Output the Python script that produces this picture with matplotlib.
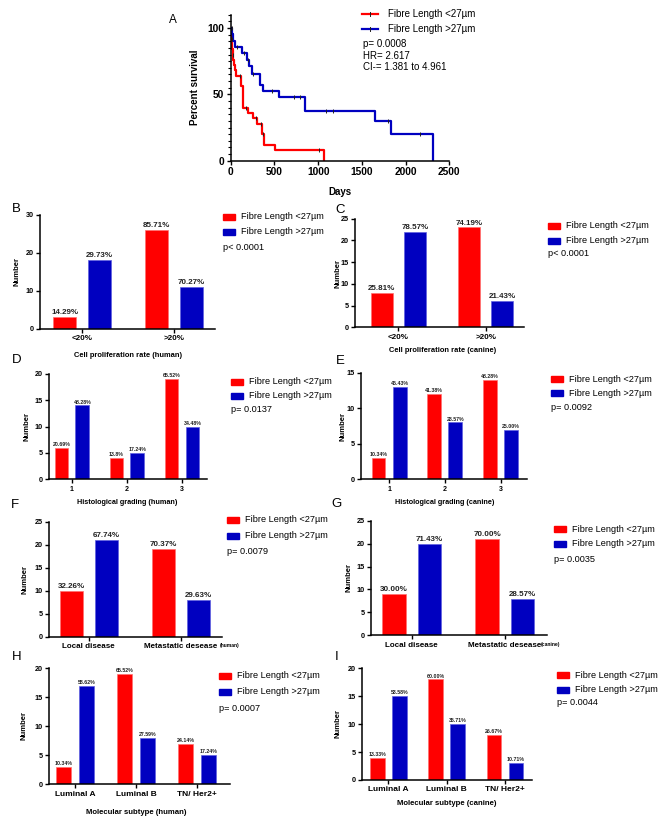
import numpy as np
import matplotlib
matplotlib.use("Agg")
from matplotlib import pyplot as plt
from matplotlib.ticker import MultipleLocator
from matplotlib.patches import Rectangle
from matplotlib.lines import Line2D

plt.rcParams['font.family'] = ['Liberation Sans', 'DejaVu Sans']

RED = '#ff0000'
BLUE = '#0000c0'
W, H = 661, 826

# ---- panel A: Kaplan-Meier ----
km_red_t = [0, 5, 10, 15, 20, 25, 30, 38, 45, 60, 120, 140, 200, 260, 297, 362, 385, 507, 1065]
km_red_s = [100, 96, 92, 88, 84, 80, 76, 72, 68, 64, 56, 40, 36, 32, 28, 20, 12, 8, 0]
km_red_cens = [12, 28, 110, 180, 285, 345, 375, 1014]
km_blue_t = [0, 18, 30, 45, 134, 187, 215, 240, 340, 366, 549, 851, 1650, 1833, 2317]
km_blue_s = [100, 95.5, 90.5, 85.7, 80.9, 76.1, 71.3, 65.3, 57, 52.5, 47.7, 37.5, 30, 20, 0]
km_blue_cens = [10, 70, 150, 200, 255, 473, 728, 793, 1086, 1170, 1795, 2161]
km_stats = ['p= 0.0008', 'HR= 2.617', 'CI-= 1.381 to 4.961']

# ---- bar panels ----
B_cats = ['<20%', '>20%']
B_red = [3, 26]
B_blue = [18, 11]
B_red_lab = ['14.29%', '85.71%']
B_blue_lab = ['29.73%', '70.27%']

C_cats = ['<20%', '>20%']
C_red = [8, 23]
C_blue = [22, 6]
C_red_lab = ['25.81%', '74.19%']
C_blue_lab = ['78.57%', '21.43%']

D_cats = ['1', '2', '3']
D_red = [6, 4, 19]
D_blue = [14, 5, 10]
D_red_lab = ['20.69%', '13.8%', '65.52%']
D_blue_lab = ['48.28%', '17.24%', '34.48%']

E_cats = ['1', '2', '3']
E_red = [3, 12, 14]
E_blue = [13, 8, 7]
E_red_lab = ['10.34%', '41.38%', '48.28%']
E_blue_lab = ['46.43%', '28.57%', '25.00%']

F_cats = ['Local disease', 'Metastatic desease']
F_red = [10, 19]
F_blue = [21, 8]
F_red_lab = ['32.26%', '70.37%']
F_blue_lab = ['67.74%', '29.63%']

G_cats = ['Local disease', 'Metastatic desease']
G_red = [9, 21]
G_blue = [20, 8]
G_red_lab = ['30.00%', '70.00%']
G_blue_lab = ['71.43%', '28.57%']

H_cats = ['Luminal A', 'Luminal B', 'TN/ Her2+']
H_red = [3, 19, 7]
H_blue = [17, 8, 5]
H_red_lab = ['10.34%', '65.52%', '24.14%']
H_blue_lab = ['58.62%', '27.59%', '17.24%']

I_cats = ['Luminal A', 'Luminal B', 'TN/ Her2+']
I_red = [4, 18, 8]
I_blue = [15, 10, 3]
I_red_lab = ['13.33%', '60.00%', '26.67%']
I_blue_lab = ['53.58%', '35.71%', '10.71%']

fig = plt.figure(figsize=(6.61, 8.26), dpi=100)


def px_axes(left, top, right, bottom):
    return fig.add_axes([left / W, 1 - bottom / H, (right - left) / W, (bottom - top) / H])


def ftext(x, y, s, **kw):
    kw.setdefault('ha', 'left')
    kw.setdefault('va', 'center')
    return fig.text(x / W, 1 - y / H, s, **kw)


def style_axes(ax, fs):
    for side in ['top', 'right']:
        ax.spines[side].set_visible(False)
    for side in ['left', 'bottom']:
        ax.spines[side].set_linewidth(1.1)
    ax.tick_params(direction='out', length=3, width=1.0, labelsize=fs, pad=1.5)
    for lab in ax.get_xticklabels() + ax.get_yticklabels():
        lab.set_fontweight('bold')


def legend_block(x, y1, y2, yp, ptext, fs=6.6):
    for yy, col, lab in [(y1, RED, 'Fibre Length <27\u00b5m'), (y2, BLUE, 'Fibre Length >27\u00b5m')]:
        fig.add_artist(Rectangle((x / W, 1 - (yy + 3) / H), 12 / W, 6 / H,
                                 transform=fig.transFigure, color=col))
        ftext(x + 18, yy, lab, fontsize=fs)
    ftext(x, yp, ptext, fontsize=fs)


def bar_panel(box, cats, red, blue, red_lab, blue_lab, ymax, ystep, xlim,
              pct_fs, cat_fs, ytick_fs=5.2):
    ax = px_axes(*box)
    x = np.arange(len(cats))
    ax.bar(x - 0.19, red, 0.25, color=RED, edgecolor='#ff7070', lw=0.5)
    ax.bar(x + 0.19, blue, 0.25, color=BLUE, edgecolor='#6060e0', lw=0.5)
    for xi, v, lab in zip(x - 0.19, red, red_lab):
        ax.text(xi, v + ymax * 0.008, lab, ha='center', va='bottom',
                fontsize=pct_fs, fontweight='bold', color='#222222')
    for xi, v, lab in zip(x + 0.19, blue, blue_lab):
        ax.text(xi, v + ymax * 0.008, lab, ha='center', va='bottom',
                fontsize=pct_fs, fontweight='bold', color='#222222')
    ax.set_xlim(*xlim)
    ax.set_ylim(0, ymax)
    ax.set_yticks(np.arange(0, ymax + 0.1, ystep))
    ax.set_xticks(x)
    ax.set_xticklabels(cats)
    style_axes(ax, ytick_fs)
    for lab in ax.get_xticklabels():
        lab.set_fontsize(cat_fs)
    return ax


# ---- A ----
axA = px_axes(230.7, 14.7, 449.3, 160.7)
axA.step(km_red_t, km_red_s, where='post', color=RED, lw=1.6)
axA.step(km_blue_t, km_blue_s, where='post', color=BLUE, lw=1.6)


def surv_at(ts, ss, t):
    i = np.searchsorted(ts, t, side='right') - 1
    return np.array(ss)[i]


axA.plot(km_red_cens, surv_at(km_red_t, km_red_s, km_red_cens), '|', color='#202020', ms=3, mew=0.7)
axA.plot(km_blue_cens, surv_at(km_blue_t, km_blue_s, km_blue_cens), '|', color='#202020', ms=3, mew=0.7)
axA.set_xlim(0, 2500)
axA.set_ylim(0, 110)
axA.set_xticks([0, 500, 1000, 1500, 2000, 2500])
axA.set_yticks([0, 50, 100])
axA.yaxis.set_minor_locator(MultipleLocator(5))
axA.tick_params(which='minor', length=2, width=0.8)
style_axes(axA, 7.4)
ftext(195, 87.5, 'Percent survival', fontsize=7, fontweight='bold', rotation=90, ha='center')
ftext(340, 191.7, 'Days', fontsize=7, fontweight='bold', ha='center')
ftext(173, 20, 'A', fontsize=8.5, ha='center')
for yy, col, lab in [(14, RED, 'Fibre Length <27\u00b5m'), (29, BLUE, 'Fibre Length >27\u00b5m')]:
    fig.add_artist(Line2D([362 / W, 378 / W], [1 - yy / H, 1 - yy / H], color=col, lw=1.6,
                          transform=fig.transFigure))
    fig.add_artist(Line2D([370 / W, 370 / W], [1 - (yy - 2) / H, 1 - (yy + 2) / H], color='#202020',
                          lw=0.7, transform=fig.transFigure))
    ftext(388, yy, lab, fontsize=7)
for yy, s in zip([44, 56, 67.5], km_stats):
    ftext(363, yy, s, fontsize=7)

# ---- B ----
bar_panel((40, 214.7, 215, 328.7), B_cats, B_red, B_blue, B_red_lab, B_blue_lab,
          30, 10, (-0.46, 1.45), 5.8, 5.8)
ftext(16, 208.5, 'B', fontsize=9.5, ha='center')
ftext(17, 271.7, 'Number', fontsize=5.5, fontweight='bold', rotation=90, ha='center')
ftext(128, 355.7, 'Cell proliferation rate (human)', fontsize=5.4, fontweight='bold', ha='center')
legend_block(222.7, 216.5, 232, 247.7, 'p< 0.0001')

# ---- C ----
bar_panel((355, 218.7, 524.3, 327.3), C_cats, C_red, C_blue, C_red_lab, C_blue_lab,
          25, 5, (-0.495, 1.44), 5.8, 5.8)
ftext(340, 210, 'C', fontsize=9.5, ha='center')
ftext(338, 273, 'Number', fontsize=5.5, fontweight='bold', rotation=90, ha='center')
ftext(442.7, 350.7, 'Cell proliferation rate (canine)', fontsize=5.4, fontweight='bold', ha='center')
legend_block(548, 226, 240.7, 253.3, 'p< 0.0001')

# ---- D ----
bar_panel((49.3, 373.7, 206.7, 479.3), D_cats, D_red, D_blue, D_red_lab, D_blue_lab,
          20, 5, (-0.41, 2.45), 3.8, 5, 5.2)
ftext(16.3, 360, 'D', fontsize=9.5, ha='center')
ftext(26.7, 426.5, 'Number', fontsize=5.5, fontweight='bold', rotation=90, ha='center')
ftext(126.7, 502.3, 'Histological grading (human)', fontsize=5.2, fontweight='bold', ha='center')
legend_block(230.7, 381.7, 395.7, 409.3, 'p= 0.0137')

# ---- E ----
bar_panel((360.7, 372.7, 526.7, 479.3), E_cats, E_red, E_blue, E_red_lab, E_blue_lab,
          15, 5, (-0.51, 2.47), 3.8, 5, 5.2)
ftext(340.3, 361, 'E', fontsize=9.5, ha='center')
ftext(343, 426, 'Number', fontsize=5.5, fontweight='bold', rotation=90, ha='center')
ftext(445, 502.7, 'Histological grading (canine)', fontsize=5.2, fontweight='bold', ha='center')
legend_block(551, 379.3, 393.3, 407.7, 'p= 0.0092')

# ---- F ----
bar_panel((49.3, 521.7, 222, 636.7), F_cats, F_red, F_blue, F_red_lab, F_blue_lab,
          25, 5, (-0.43, 1.45), 5.8, 5.8)
ftext(14.5, 505.3, 'F', fontsize=9.5, ha='center')
ftext(25, 579, 'Number', fontsize=5.5, fontweight='bold', rotation=90, ha='center')
ftext(219.5, 645.5, '(human)', fontsize=3.6, fontweight='bold')
legend_block(226.7, 520, 535.7, 551, 'p= 0.0079')

# ---- G ----
bar_panel((370.7, 520.7, 546.7, 635.3), G_cats, G_red, G_blue, G_red_lab, G_blue_lab,
          25, 5, (-0.44, 1.45), 5.8, 5.8)
ftext(336.7, 504.3, 'G', fontsize=9.5, ha='center')
ftext(349, 578, 'Number', fontsize=5.5, fontweight='bold', rotation=90, ha='center')
ftext(541, 644.5, '(canine)', fontsize=3.6, fontweight='bold')
legend_block(554, 529, 544, 559.3, 'p= 0.0035')

# ---- H ----
bar_panel((49.3, 668.3, 230, 784.3), H_cats, H_red, H_blue, H_red_lab, H_blue_lab,
          20, 5, (-0.42, 2.54), 3.8, 6)
ftext(16.7, 657.5, 'H', fontsize=9.5, ha='center')
ftext(24, 726, 'Number', fontsize=5.5, fontweight='bold', rotation=90, ha='center')
ftext(136, 812.7, 'Molecular subtype (human)', fontsize=5.6, fontweight='bold', ha='center')
legend_block(219.3, 676, 691.7, 708.3, 'p= 0.0007')

# ---- I ----
bar_panel((361.7, 668.3, 531.7, 780), I_cats, I_red, I_blue, I_red_lab, I_blue_lab,
          20, 5, (-0.46, 2.46), 3.8, 6)
ftext(336.7, 657.5, 'I', fontsize=9.5, ha='center')
ftext(338, 724, 'Number', fontsize=5.5, fontweight='bold', rotation=90, ha='center')
ftext(446.7, 803.3, 'Molecular subtype (canine)', fontsize=5.6, fontweight='bold', ha='center')
legend_block(556.7, 675, 690, 702.3, 'p= 0.0044')

fig.savefig('out.png', dpi=100)
